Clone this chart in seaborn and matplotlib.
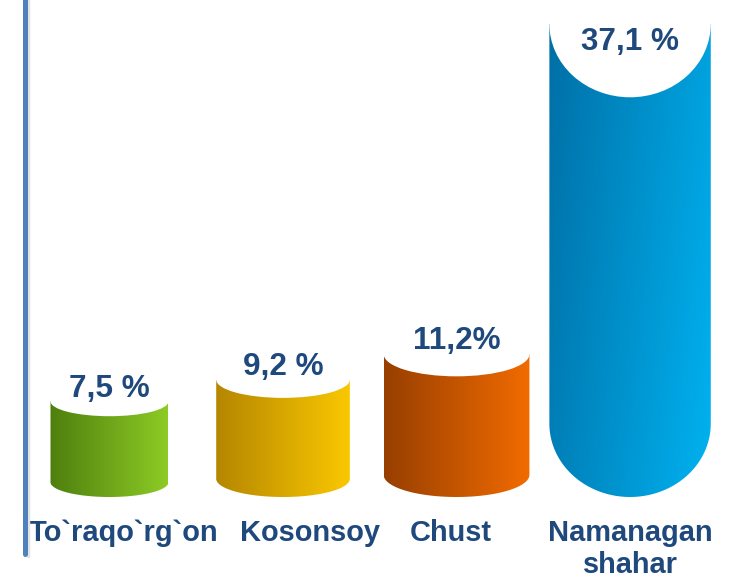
import numpy as np
import matplotlib
matplotlib.use("Agg")
import matplotlib.pyplot as plt
import seaborn as sns
from matplotlib.patches import Ellipse, PathPatch
from matplotlib.path import Path
from matplotlib.colors import to_rgb
from matplotlib.lines import Line2D

# data
regions = ["To`raqo`rg`on", "Kosonsoy", "Chust", "Namanagan\nshahar"]
shares = [7.5, 9.2, 11.2, 37.1]
share_labels = ["7,5 %", "9,2 %", "11,2%", "37,1 %"]

# gradient ends (left -> right) of each cylinder
left_colors = ["#4E7F0E", "#B58600", "#973F00", "#006FA6"]
right_colors = ["#8DCB25", "#FAC800", "#F26B00", "#00B2F0"]
tilt = [0.0, 0.0, 0.0, 0.25]
bar_widths = [0.68, 0.77, 0.84, 0.93]
# where the category names sit (slightly off the bar centres, as in the slide)
label_pos = [0.08, 1.156, 1.968, 3.0]

TEXT = "#1F497D"

sns.set_theme(style="white")
plt.rcParams["font.family"] = ["Liberation Sans", "DejaVu Sans"]

fig = plt.figure(figsize=(7.38, 5.8), dpi=100)
ax = fig.add_axes([0, 83 / 580, 1, 497 / 580])

sns.barplot(x=regions, y=shares, ax=ax, width=0.8)

gx, gy = np.meshgrid(np.linspace(0, 1, 256), np.linspace(0, 1, 64))

for i, bar in enumerate(list(ax.patches)):
    xc = bar.get_x() + bar.get_width() / 2
    h = bar.get_height()
    bar.set_visible(False)
    w = bar_widths[i]
    x0, x1 = xc - w / 2, xc + w / 2
    ry = 0.155 * h

    # cylinder body: side + rounded bottom
    theta = np.linspace(0, -np.pi, 80)
    verts = [(x0, h), (x1, h)]
    verts += list(zip(xc + w / 2 * np.cos(theta), ry + ry * np.sin(theta)))
    verts += [(x0, h)]
    body = PathPatch(Path(np.array(verts), closed=True), facecolor="none", edgecolor="none")
    ax.add_patch(body)

    t = np.clip((1 - tilt[i]) * gx + tilt[i] * (1 - gy), 0, 1)[..., None]
    img = np.array(to_rgb(left_colors[i])) * (1 - t) + np.array(to_rgb(right_colors[i])) * t
    im = ax.imshow(img, extent=[x0, x1, 0, h], origin="lower", aspect="auto", zorder=2)
    im.set_clip_path(body)

    # white top
    ax.add_patch(Ellipse((xc, h), w, 2 * ry, facecolor="white", edgecolor="none", zorder=3))

    ax.text(xc, min(h + 1.0, 35.7), share_labels[i], ha="center", va="center",
            fontsize=22.7, fontweight="bold", color=TEXT, zorder=4)

ax.set_xlim(-0.631, 3.622)
ax.set_ylim(0, 38.98)
ax.set_xlabel("")
ax.set_ylabel("")
ax.set_yticks([])
ax.set_xticks(label_pos, regions)
ax.tick_params(axis="x", length=0, pad=15.5, labelsize=20.9, labelcolor=TEXT)
for lbl in ax.get_xticklabels():
    lbl.set_fontweight("bold")
sns.despine(ax=ax, left=True, bottom=True)

# vertical rule on the left
fig.add_artist(Line2D([28.0 / 738] * 2, [1, 1 - 556 / 580], transform=fig.transFigure,
                      color="#E3E3E3", lw=2.5, zorder=0.5))
fig.add_artist(Line2D([24.5 / 738] * 2, [1, 1 - 554 / 580], transform=fig.transFigure,
                      color="#4F81BD", lw=3.6, zorder=1))

fig.savefig("out.png", dpi=100)
